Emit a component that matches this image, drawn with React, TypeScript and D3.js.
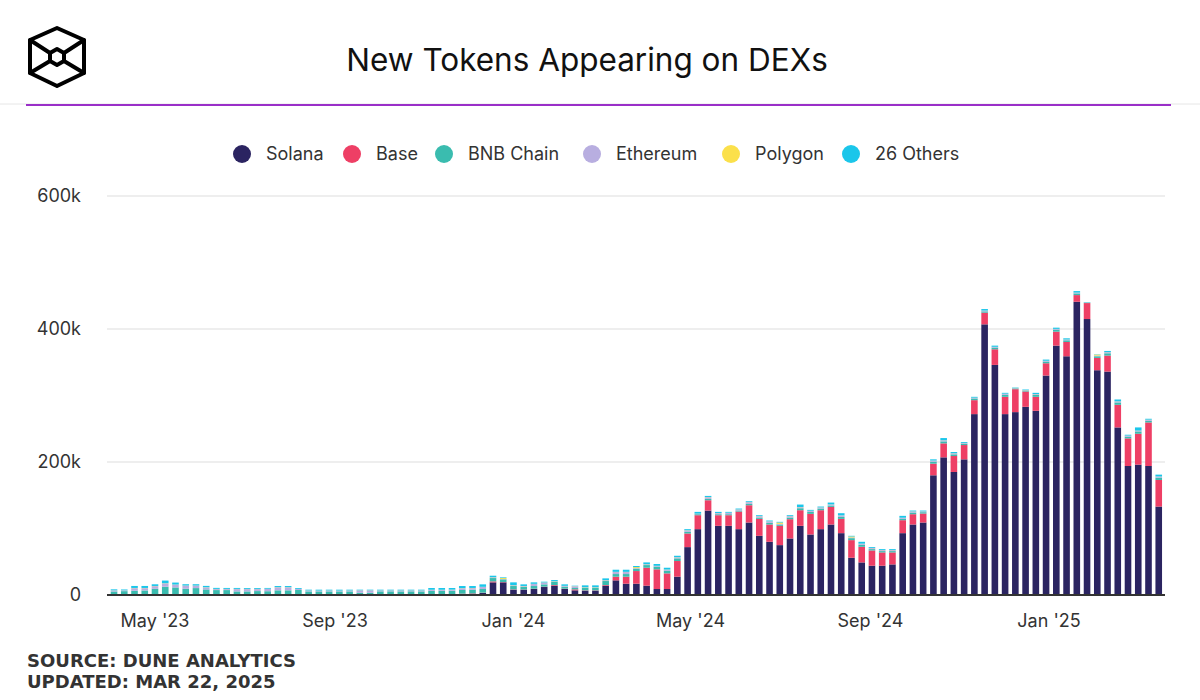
import React from 'react';
import * as d3 from 'd3';

// weekly counts, thousands of new tokens, first week starts Mon 3 Apr 2023
const firstWeek = '2023-04-03';

const solana = [
  0.3, 0.3, 0.3, 0.3, 0.3, 0.4, 0.4, 0.4, 0.4, 0.4, 0.4, 0.4, 0.4, 0.4, 0.4, 0.4, 0.5, 0.5, 0.5, 0.5,
  0.5, 0.5, 0.5, 0.5, 0.5, 0.5, 0.6, 0.6, 0.6, 0.6, 0.7, 0.8, 0.9, 1, 1.5, 2, 3, 19, 19, 8,
  8, 9, 12, 14, 9, 7, 6.5, 6.5, 14, 22, 17, 17, 14, 9, 9, 27.6, 72, 99, 127, 104,
  104, 99, 109, 89, 80, 75, 85, 104, 91, 99, 106, 93, 56, 49, 44, 44, 46, 93, 106, 109,
  180, 207, 185, 204, 272, 407, 346, 272, 275, 283, 277, 330, 375, 359, 441, 415, 338, 336, 252, 194,
  196, 194, 133,
];
const base = [
  0, 0, 0, 0, 0, 0, 0, 0, 0, 0, 0, 0, 0, 0, 0, 0.3, 0.5, 0.5, 0.5, 0.4,
  0.4, 0.4, 0.4, 0.4, 0.4, 0.4, 0.4, 0.4, 0.4, 0.4, 0.4, 0.4, 0.4, 0.4, 0.5, 0.5, 0.5, 1.5, 0.5, 0.5,
  0.3, 0.5, 0.5, 1, 0.5, 1.5, 0.5, 0.5, 1, 5.5, 10.5, 19, 27, 29.6, 23.5, 23.5, 20.5, 21, 15.5, 16,
  16, 26.5, 26, 25.5, 26, 29, 29, 23.5, 31, 28.5, 26.5, 21.5, 26.5, 23.5, 23, 20, 18, 19.5, 15.5, 13.5,
  17.5, 21, 24, 21.5, 21, 17.5, 23.5, 26, 34.5, 23, 21, 18.5, 21, 21.5, 10, 24, 18.5, 24, 34, 41.5,
  46.5, 65.5, 40,
];
const bnbChain = [
  5, 5.5, 6, 6.5, 9, 12, 11, 9, 10, 8, 7, 7, 5, 5, 5.5, 5, 6, 6, 6.5, 4.5,
  4.5, 4.5, 4.5, 4.5, 2.5, 2.5, 4.5, 4.5, 4.4, 4.5, 4.3, 5, 5, 5, 5.5, 5.5, 5.5, 5, 4, 5,
  4, 4, 3.5, 5, 3, 2, 4, 4, 6, 4, 4, 3.5, 4, 4, 4, 4, 2.5, 1.5, 2, 1.5,
  1.5, 1.5, 2, 2, 2.5, 2, 2.5, 3, 3, 2.5, 2, 3, 3, 3, 2, 2, 2, 2, 2.5, 2,
  3, 3, 2.5, 2, 2.5, 2, 2.5, 3, 1.2, 1.5, 3, 2.5, 3, 2.5, 2.5, 0.6, 2.5, 3.5, 3.5, 2.5,
  3.5, 2.5, 3.5,
];
const ethereum = [
  1.5, 1, 4, 3.5, 4, 5, 4, 4.5, 3.5, 3, 1.5, 1.5, 3.5, 3.5, 3, 3.5, 4.5, 4.5, 1.5, 1.2,
  1, 1.2, 1, 1.2, 3.5, 3.5, 1.2, 1.2, 1.3, 1.2, 1.3, 1.5, 1.4, 1.5, 2.5, 2.3, 3, 1, 0.5, 1,
  1, 3, 2.5, 0.5, 1, 2.5, 0.5, 0.5, 1, 3, 3, 1, 1, 1, 1.5, 1.5, 2, 0.5, 2.5, 1.5,
  2, 1.5, 2.5, 2, 2, 1, 2, 1.5, 1.5, 1.5, 1.5, 2, 1, 1.5, 1.5, 1.5, 1.5, 1.5, 1.5, 1,
  1.5, 1.5, 1.5, 1, 1, 1, 1, 1.5, 0.5, 0.5, 1, 1, 1, 1, 1, 0.3, 1, 1.5, 1.5, 1.5,
  1, 1.5, 1.5,
];
const polygon = [
  0.2, 0.2, 0.3, 0.3, 0.3, 0.3, 0.3, 0.3, 0.3, 0.3, 0.3, 0.3, 0.3, 0.3, 0.3, 0.2, 0.3, 0.3, 0.2, 0.2,
  0.2, 0.2, 0.2, 0.2, 0.2, 0.2, 0.2, 0.2, 0.2, 0.2, 0.2, 0.2, 0.2, 0.2, 0.3, 0.3, 0.3, 0.3, 1.5, 0.3,
  0.3, 0.3, 0.3, 0.3, 0.3, 0.3, 0.3, 0.3, 0.3, 0.3, 0.3, 1.5, 0.3, 0.3, 0.3, 0.3, 0.3, 0.3, 0.3, 0.2,
  0.2, 0.2, 0.2, 0.2, 0.2, 2, 0.2, 0.3, 0.2, 0.2, 0.2, 0.2, 1.5, 0.2, 0.2, 0.2, 0.2, 0.2, 0.2, 0.2,
  0.2, 0.2, 0.2, 0.2, 0.2, 0.2, 0.2, 0.2, 0.2, 0.2, 0.2, 0.2, 0.2, 0.2, 0.2, 0.1, 1.5, 0.2, 0.2, 0.2,
  0.2, 0.2, 0.2,
];
const others = [
  1.5, 1.3, 3, 3, 2.5, 4, 3, 2, 2, 2, 1.5, 1.4, 1.4, 1.3, 1.3, 1.2, 1.7, 1.7, 1.3, 1.2,
  1.4, 1.2, 1.4, 1.2, 0.9, 0.9, 1.1, 1.1, 1.1, 1.1, 1.1, 2.6, 2.6, 2.4, 3.2, 2.9, 3.7, 2.2, 1, 4.2,
  2.4, 2.2, 1.2, 1.7, 2.2, 0.7, 2.7, 2.7, 2.7, 3.2, 3.2, 1.6, 2.7, 2.7, 2.7, 2.1, 1.7, 2.7, 1.7, 1.8,
  1.3, 1.3, 1.3, 1.3, 1.3, 1, 1.3, 3.7, 1.3, 1.3, 2.8, 3.3, 1, 2.8, 1.3, 1.3, 1.3, 2.8, 1.3, 1.3,
  1.8, 3.3, 1.8, 1.3, 1.3, 2.3, 1.8, 1.3, 0.6, 0.8, 1.8, 1.8, 1.8, 1.8, 2.3, 0.5, 0.5, 1.8, 2.8, 1.3,
  4.8, 1.3, 2.8,
];

const seriesNames = ['Solana', 'Base', 'BNB Chain', 'Ethereum', 'Polygon', '26 Others'];
const seriesColors = ['#2b2461', '#ee3f65', '#3abcaf', '#b8aee0', '#fbe04b', '#1bc6ea'];
const seriesValues = [solana, base, bnbChain, ethereum, polygon, others];

const yTicks = [0, 200, 400, 600];
const xTickDates = ['2023-05-01', '2023-09-01', '2024-01-01', '2024-05-01', '2024-09-01', '2025-01-01'];
const xTickLabels = ["May '23", "Sep '23", "Jan '24", "May '24", "Sep '24", "Jan '25"];

const W = 1200;
const H = 700;
const plotLeft = 107;
const plotRight = 1165;
const baseY = 595;
const font = 'Inter, "Noto Sans", sans-serif';
const legendX = [242, 352, 444, 592, 731, 851];

const App = () => {
  const start = new Date(firstWeek + 'T00:00:00Z');
  const weeks = solana.map((_, i) => d3.utcMonday.offset(start, i));

  const rows = weeks.map((w, i) => {
    const r: any = { date: w };
    seriesNames.forEach((n, k) => (r[n] = seriesValues[k][i]));
    return r;
  });
  const stacked = d3.stack().keys(seriesNames)(rows);

  const x = d3
    .scaleUtc()
    .domain([new Date('2023-05-01T00:00:00Z'), new Date('2025-01-01T00:00:00Z')])
    .range([155, 1049]);
  const y = d3.scaleLinear().domain([0, 600]).range([baseY, 196]);
  const barW = 6.6;

  return (
    <svg
      width={W}
      height={H}
      viewBox={`0 0 ${W} ${H}`}
      style={{ position: 'absolute', left: 0, top: 0, background: '#fff' }}
    >
      {/* logo */}
      <g fill="none" stroke="#000" strokeWidth={4} strokeLinejoin="round" strokeLinecap="round">
        <path d="M57,28 L84,40 L84,73 L57,86 L30,73 L30,40 Z" />
        <path d="M57,49 L64,53 L64,61 L57,65 L50,61 L50,53 Z" />
        <path d="M30,40 L50,53 M84,40 L64,53 M30,73 L50,61 M84,73 L64,61" />
      </g>

      <text x={587} y={71} textAnchor="middle" fontFamily={font} fontSize={31.5} fill="#111">
        New Tokens Appearing on DEXs
      </text>

      <line x1={0} x2={W} y1={104} y2={104} stroke="#e6e6e6" strokeWidth={1} />
      <line x1={26} x2={1171} y1={105} y2={105} stroke="#9a2fc8" strokeWidth={2} />

      {/* legend */}
      {seriesNames.map((n, k) => (
        <g key={n} transform={`translate(${legendX[k]},154)`}>
          <circle r={9} fill={seriesColors[k]} />
          <text x={24} dy="0.36em" fontFamily={font} fontSize={18} fill="#333">
            {n}
          </text>
        </g>
      ))}

      {/* grid + y labels */}
      {yTicks.map((t) => (
        <g key={t}>
          {t > 0 && (
            <line x1={plotLeft} x2={plotRight} y1={y(t)} y2={y(t)} stroke="#e9e9e9" strokeWidth={1.5} />
          )}
          <text
            x={81}
            y={y(t)}
            dy="0.36em"
            textAnchor="end"
            fontFamily={font}
            fontSize={18}
            fill="#333"
          >
            {t === 0 ? '0' : `${t}k`}
          </text>
        </g>
      ))}

      {/* bars */}
      {stacked.map((s, k) => (
        <g key={s.key} fill={seriesColors[k]}>
          {s.map((d, i) => (
            <rect
              key={i}
              x={x(weeks[i]) - barW / 2}
              y={y(d[1])}
              width={barW}
              height={Math.max(0, y(d[0]) - y(d[1]))}
            />
          ))}
        </g>
      ))}

      <line x1={plotLeft} x2={plotRight} y1={baseY} y2={baseY} stroke="#333" strokeWidth={2} />

      {/* x labels */}
      {xTickDates.map((d, i) => (
        <text
          key={d}
          x={x(new Date(d + 'T00:00:00Z'))}
          y={627}
          textAnchor="middle"
          fontFamily={font}
          fontSize={18}
          fill="#333"
        >
          {xTickLabels[i]}
        </text>
      ))}

      <text x={27} y={667} fontFamily="'DejaVu Sans', sans-serif" fontWeight="bold" fontSize={18} fill="#333">
        SOURCE: DUNE ANALYTICS
      </text>
      <text x={27} y={688} fontFamily="'DejaVu Sans', sans-serif" fontWeight="bold" fontSize={18} fill="#333">
        UPDATED: MAR 22, 2025
      </text>
    </svg>
  );
};

export default App;
